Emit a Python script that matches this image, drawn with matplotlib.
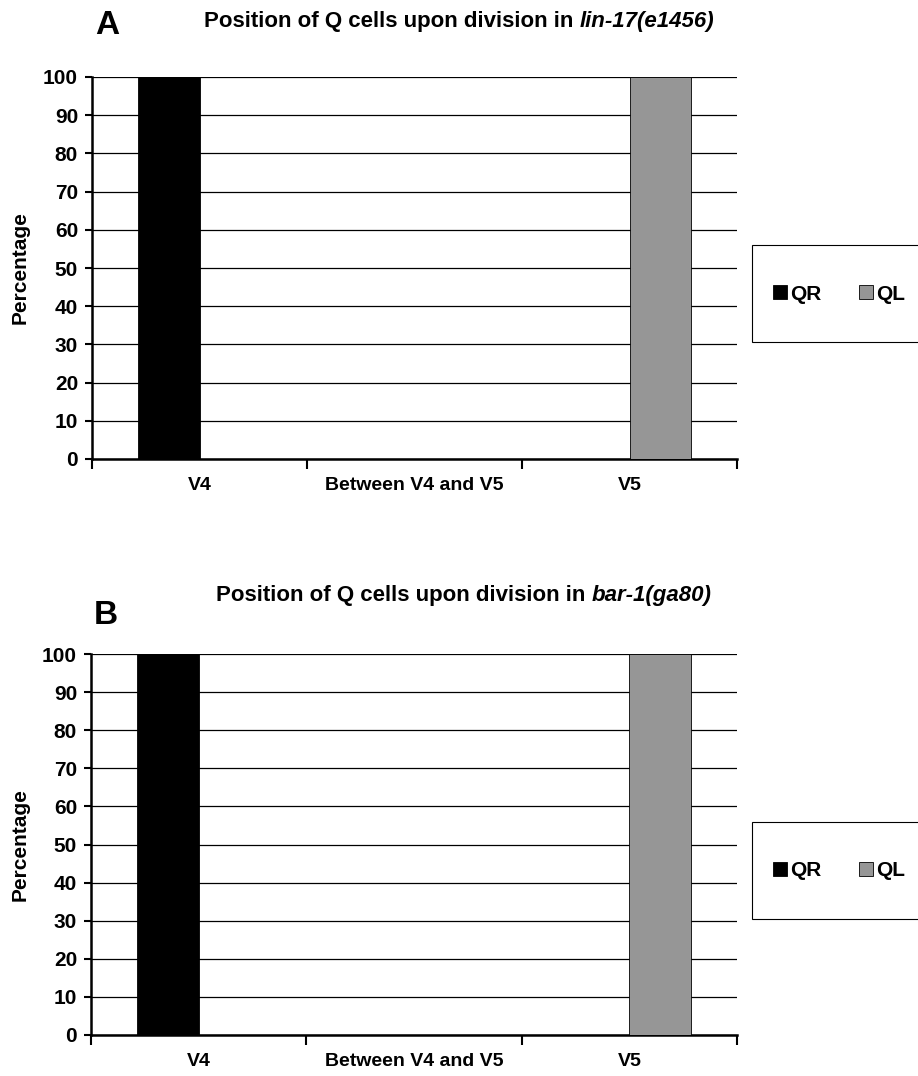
import numpy as np
import matplotlib.pyplot as plt
from matplotlib.patches import Rectangle

plt.rcParams['font.family'] = ['Liberation Sans', 'DejaVu Sans']
plt.rcParams['font.weight'] = 'bold'

categories = ['V4', 'Between V4 and V5', 'V5']
series = ['QR', 'QL']
colors = ['#000000', '#969696']

lin17_qr = [100, 0, 0]
lin17_ql = [0, 0, 100]
bar1_qr = [100, 0, 0]
bar1_ql = [0, 0, 100]

panels = [
    ('A', 'lin-17(e1456)', [lin17_qr, lin17_ql]),
    ('B', 'bar-1(ga80)', [bar1_qr, bar1_ql]),
]

W, H = 918, 1076
fig = plt.figure(figsize=(W / 100, H / 100), dpi=100)

# axes boxes in pixels: left, top, right, bottom
boxes = [(92, 77, 737, 459), (91, 654, 737, 1035)]
title_pos = [(459, 21), (464, 596)]
letter_pos = [(107, 25), (106, 615)]
legend_box = [(752, 245), (752, 822)]

def fx(px):
    return px / W

def fy(py):
    return 1 - py / H

width = 1 / 3.5
x = np.arange(len(categories))

for (letter, strain, vals), (l, t, r, b), (tx, ty), (lx, ly), (bx, by) in zip(
        panels, boxes, title_pos, letter_pos, legend_box):
    ax = fig.add_axes([fx(l), fy(b), fx(r - l), (b - t) / H])
    handles = []
    for i, (name, col, v) in enumerate(zip(series, colors, vals)):
        h = ax.bar(x + (i - 0.5) * width, v, width, color=col,
                   edgecolor='black', linewidth=0.6, label=name, zorder=3)
        handles.append(h)
    ax.set_xlim(-0.5, len(categories) - 0.5)
    ax.set_ylim(0, 100)
    ax.set_yticks(np.arange(0, 101, 10))
    ax.yaxis.grid(True, color='black', linewidth=0.9)
    ax.set_axisbelow(True)
    ax.set_xticks(np.arange(-0.5, len(categories)), minor=False)
    ax.set_xticklabels([])
    ax.set_xticks(x, minor=True)
    ax.set_xticklabels(categories, minor=True, fontsize=14, fontweight='bold')
    ax.tick_params(axis='x', which='major', length=7, width=1.5, direction='out')
    ax.tick_params(axis='x', which='minor', length=0, pad=13)
    ax.tick_params(axis='y', length=5, width=1.5, labelsize=15, pad=5)
    for lab in ax.get_yticklabels():
        lab.set_fontweight('bold')
    for s in ['top', 'right']:
        ax.spines[s].set_visible(False)
    for s in ['left', 'bottom']:
        ax.spines[s].set_linewidth(1.8)
    ax.set_ylabel('Percentage', fontsize=15, fontweight='bold', va='center')
    ax.yaxis.set_label_coords((20 - l) / (r - l), 0.5)

    # panel letter
    fig.text(fx(lx), fy(ly), letter, fontsize=24, fontweight='bold',
             ha='center', va='center')

    # title with italic strain name
    fig.canvas.draw()
    rend = fig.canvas.get_renderer()
    t1 = fig.text(0, fy(ty), 'Position of Q cells upon division in ',
                  fontsize=16, fontweight='bold', va='center', ha='left')
    t2 = fig.text(0, fy(ty), strain, fontsize=16, fontweight='bold',
                  style='italic', va='center', ha='left')
    w1 = t1.get_window_extent(rend).width
    w2 = t2.get_window_extent(rend).width
    start = tx - (w1 + w2) / 2
    t1.set_x(fx(start))
    t2.set_x(fx(start + w1))

    # legend frame running off the right edge
    fig.patches.append(Rectangle((fx(bx), fy(by + 97)), fx(200), 97 / H,
                                 transform=fig.transFigure, facecolor='white',
                                 edgecolor='black', linewidth=0.8))
    fig.legend(handles=handles, labels=series, ncol=2, frameon=False,
               loc='center left', bbox_to_anchor=(fx(bx + 21), fy(by + 49)),
               borderaxespad=0, borderpad=0,
               handlelength=0.67, handleheight=0.67, handletextpad=0.15,
               columnspacing=1.8, prop={'size': 15, 'weight': 'bold'})

fig.savefig('out.png', dpi=100)
